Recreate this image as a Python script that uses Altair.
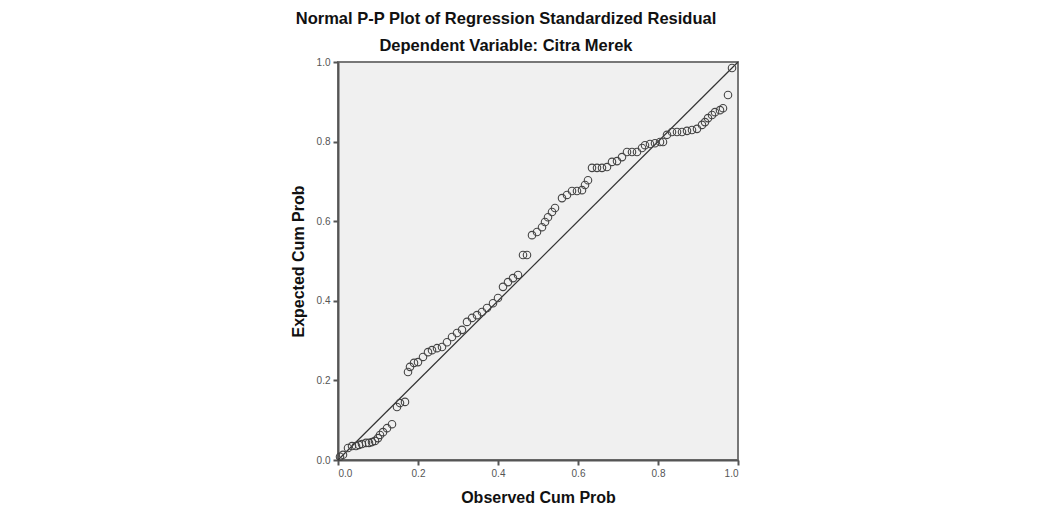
import altair as alt
import pandas as pd

observed = [0.005, 0.0125, 0.025, 0.035, 0.045, 0.0525, 0.06, 0.07, 0.0775, 0.085,
            0.0925, 0.10, 0.105, 0.1125, 0.1225, 0.135, 0.1475, 0.155, 0.1675, 0.175,
            0.18, 0.19, 0.20, 0.2125, 0.225, 0.235, 0.2475, 0.26, 0.2725, 0.285,
            0.2975, 0.31, 0.3225, 0.335, 0.3475, 0.36, 0.3725, 0.3875, 0.40, 0.4125,
            0.425, 0.4375, 0.45, 0.4625, 0.4725, 0.485, 0.4975, 0.51, 0.5175, 0.525,
            0.535, 0.5425, 0.56, 0.5725, 0.585, 0.5975, 0.61, 0.6175, 0.625, 0.635,
            0.6475, 0.66, 0.6725, 0.685, 0.6975, 0.71, 0.7225, 0.735, 0.7475, 0.76,
            0.7675, 0.78, 0.7925, 0.805, 0.8125, 0.8225, 0.835, 0.8475, 0.86, 0.8725,
            0.885, 0.8975, 0.91, 0.9175, 0.925, 0.935, 0.9425, 0.955, 0.9625, 0.975,
            0.985]
expected = [0.008, 0.013, 0.03, 0.035, 0.035, 0.038, 0.04, 0.043, 0.043, 0.045,
            0.048, 0.055, 0.063, 0.07, 0.08, 0.09, 0.133, 0.143, 0.146, 0.221,
            0.234, 0.244, 0.246, 0.259, 0.271, 0.276, 0.281, 0.284, 0.296, 0.309,
            0.319, 0.327, 0.347, 0.357, 0.364, 0.372, 0.382, 0.394, 0.407, 0.435,
            0.447, 0.457, 0.465, 0.515, 0.515, 0.565, 0.573, 0.585, 0.598, 0.61,
            0.623, 0.633, 0.658, 0.666, 0.676, 0.676, 0.678, 0.691, 0.703, 0.734,
            0.734, 0.734, 0.736, 0.749, 0.751, 0.761, 0.774, 0.774, 0.774, 0.784,
            0.791, 0.794, 0.796, 0.799, 0.799, 0.817, 0.824, 0.824, 0.824, 0.827,
            0.829, 0.832, 0.842, 0.849, 0.859, 0.867, 0.874, 0.879, 0.884, 0.917,
            0.985]

line_x = [0.0, 1.0]
line_y = [0.0, 1.0]
ticks = [0.0, 0.2, 0.4, 0.6, 0.8, 1.0]

pts = pd.DataFrame({"obs": observed, "exp": expected})
ref = pd.DataFrame({"obs": line_x, "exp": line_y})

FONT = "Liberation Sans"

xscale = alt.Scale(domain=[0, 1], nice=False, zero=False)
yscale = alt.Scale(domain=[0, 1], nice=False, zero=False)

xaxis = alt.Axis(title="Observed Cum Prob", values=ticks, format=".1f",
                 grid=False, domain=True, domainColor="#555555", domainWidth=2,
                 tickColor="#555555", tickWidth=2, tickSize=5,
                 labelColor="#555555", labelFontSize=10, labelFont=FONT,
                 labelPadding=3, titleFont=FONT, titleFontSize=16,
                 titleFontWeight="bold", titleColor="#111111", titlePadding=11)
yaxis = alt.Axis(title="Expected Cum Prob", values=ticks, format=".1f",
                 grid=False, domain=True, domainColor="#555555", domainWidth=2,
                 tickColor="#555555", tickWidth=2, tickSize=5,
                 labelColor="#555555", labelFontSize=10, labelFont=FONT,
                 labelPadding=3, titleFont=FONT, titleFontSize=16,
                 titleFontWeight="bold", titleColor="#111111", titlePadding=10)

line = alt.Chart(ref).mark_line(color="#333333", strokeWidth=1.2).encode(
    x=alt.X("obs:Q", scale=xscale, axis=xaxis),
    y=alt.Y("exp:Q", scale=yscale, axis=yaxis),
)

points = alt.Chart(pts).mark_point(
    shape="circle", filled=False, size=56, stroke="#444444", strokeWidth=1.1, opacity=1
).encode(
    x=alt.X("obs:Q", scale=xscale),
    y=alt.Y("exp:Q", scale=yscale),
)

chart = alt.layer(line, points).properties(
    width=400,
    height=398,
    autosize=alt.AutoSizeParams(type="none"),
    padding={"left": 330, "top": 54, "right": 290, "bottom": 48},
    title=alt.TitleParams(
        text="Normal P-P Plot of Regression Standardized Residual",
        subtitle="Dependent Variable: Citra Merek",
        font=FONT, fontSize=16.5, fontWeight="bold", color="#111111",
        subtitleFont=FONT, subtitleFontSize=16.5, subtitleFontWeight="bold",
        subtitleColor="#111111", subtitlePadding=10,
        anchor="middle", dx=-32, offset=3,
    ),
).configure_view(
    fill="#f0f0f0", stroke="#777777", strokeWidth=2
)

chart.save("out.html", embed_options={"renderer": "svg", "actions": False})
